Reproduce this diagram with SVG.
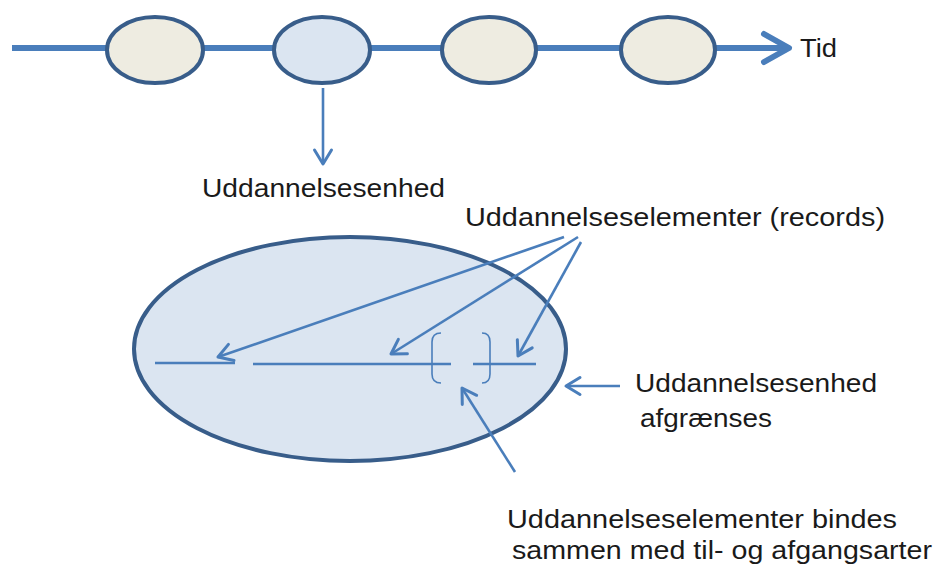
<svg xmlns="http://www.w3.org/2000/svg" width="938" height="564" viewBox="0 0 938 564">
  <defs>
    <marker id="ah" markerUnits="userSpaceOnUse" viewBox="0 0 20 22" refX="17" refY="11" markerWidth="20" markerHeight="22" orient="auto">
      <path d="M3,2.5 L17,11 L3,19.5" fill="none" stroke="#4a7ebb" stroke-width="3" stroke-linecap="round" stroke-linejoin="round"/>
    </marker>
  </defs>
  <style>
    .t { font-family: "Liberation Sans", Arial, sans-serif; font-size: 26px; fill: #1a1a1a; }
    .node { stroke: #385d8a; stroke-width: 4; }
    .beige { fill: #eeece1; }
    .blue { fill: #dbe5f1; }
    .conn { stroke: #4a7ebb; stroke-width: 2.6; fill: none; }
    .seg { stroke: #4a7ebb; stroke-width: 2.6; fill: none; }
    .br { stroke: #4a7ebb; stroke-width: 1.6; fill: none; }
  </style>
  <rect width="938" height="564" fill="#ffffff"/>

  <g id="timeline">
    <line x1="12" y1="48" x2="786" y2="48" stroke="#4a7ebb" stroke-width="6"/>
    <path d="M764,34 L789,48 L764,62" fill="none" stroke="#4a7ebb" stroke-width="6" stroke-linecap="round" stroke-linejoin="round"/>
    <text class="t" x="800" y="57" textLength="37" lengthAdjust="spacingAndGlyphs">Tid</text>
  </g>

  <g id="node1"><ellipse class="node beige" cx="155" cy="50" rx="48" ry="33"/></g>
  <g id="node2"><ellipse class="node blue" cx="322" cy="50" rx="48" ry="33"/></g>
  <g id="node3"><ellipse class="node beige" cx="489" cy="50" rx="47" ry="33"/></g>
  <g id="node4"><ellipse class="node beige" cx="668" cy="50" rx="47" ry="33"/></g>

  <g id="label-enhed">
    <text class="t" x="202" y="197" textLength="243" lengthAdjust="spacingAndGlyphs">Uddannelsesenhed</text>
  </g>

  <g id="big-ellipse">
    <ellipse class="node blue" cx="350" cy="349" rx="216" ry="112"/>
    <line class="seg" x1="155" y1="363" x2="235" y2="363"/>
    <line class="seg" x1="253" y1="364" x2="451" y2="364"/>
    <line class="seg" x1="473" y1="364" x2="536" y2="364"/>
    <path class="br" d="M441,333 Q432,333 432,342 L432,374 Q432,383 441,383"/>
    <path class="br" d="M482,333 Q490,333 490,342 L490,374 Q490,383 482,383"/>
  </g>

  <g id="label-records">
    <text class="t" x="465" y="226" textLength="420" lengthAdjust="spacingAndGlyphs">Uddannelseselementer (records)</text>
  </g>

  <g id="label-afgraenses">
    <text class="t" x="635" y="392" textLength="242" lengthAdjust="spacingAndGlyphs">Uddannelsesenhed</text>
    <text class="t" x="640" y="427" textLength="132" lengthAdjust="spacingAndGlyphs">afgrænses</text>
  </g>

  <g id="label-bindes">
    <text class="t" x="507" y="528" textLength="390" lengthAdjust="spacingAndGlyphs">Uddannelseselementer bindes</text>
    <text class="t" x="512" y="559" textLength="420" lengthAdjust="spacingAndGlyphs">sammen med til- og afgangsarter</text>
  </g>

  <g id="connectors">
    <line class="conn" x1="323" y1="88" x2="323" y2="164" marker-end="url(#ah)"/>
    <line class="conn" x1="564" y1="237" x2="218" y2="357" marker-end="url(#ah)"/>
    <line class="conn" x1="578" y1="237" x2="391" y2="354" marker-end="url(#ah)"/>
    <line class="conn" x1="581" y1="242" x2="518" y2="356" marker-end="url(#ah)"/>
    <line class="conn" x1="515" y1="472" x2="462" y2="388" marker-end="url(#ah)"/>
    <line class="conn" x1="620" y1="386" x2="566" y2="386" marker-end="url(#ah)"/>
  </g>
</svg>
